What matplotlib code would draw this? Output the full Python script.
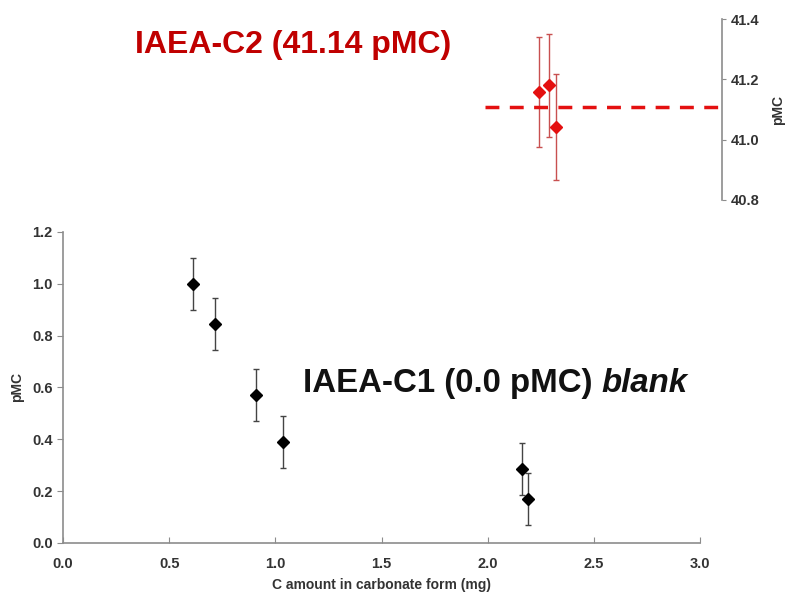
import matplotlib
matplotlib.use("Agg")
import matplotlib.pyplot as plt
from matplotlib.ticker import FormatStrFormatter

plt.rcParams['font.family'] = ['Liberation Sans', 'DejaVu Sans']
plt.rcParams['font.weight'] = 'bold'

# IAEA-C1 blank
c1_x = [0.612, 0.714, 0.909, 1.035, 2.163, 2.19]
c1_y = [1.0, 0.846, 0.572, 0.388, 0.284, 0.171]
c1_err = [0.1, 0.1, 0.1, 0.1, 0.1, 0.1]

# IAEA-C2
c2_x = [2.24, 2.29, 2.32]
c2_y = [41.159, 41.18, 41.041]
c2_err = [0.183, 0.172, 0.176]
c2_ref = 41.11

gray = '#8c8c8c'
txt = '#333333'

fig = plt.figure(figsize=(7.9, 5.97), dpi=100)

# bottom panel
ax = fig.add_axes([0.0797, 0.0905, 0.8066, 0.521])
ax.errorbar(c1_x, c1_y, yerr=c1_err, fmt='D', color='black', markersize=6.5,
            ecolor='#444444', elinewidth=1, capsize=2.5, capthick=1)
ax.set_xlim(0, 3.0)
ax.set_ylim(0, 1.2)
ax.set_xticks([0, 0.5, 1.0, 1.5, 2.0, 2.5, 3.0])
ax.set_yticks([0, 0.2, 0.4, 0.6, 0.8, 1.0, 1.2])
ax.xaxis.set_major_formatter(FormatStrFormatter('%.1f'))
ax.yaxis.set_major_formatter(FormatStrFormatter('%.1f'))
for s in ['top', 'right']:
    ax.spines[s].set_visible(False)
for s in ['left', 'bottom']:
    ax.spines[s].set_color(gray)
    ax.spines[s].set_linewidth(1.2)
ax.tick_params(axis='x', direction='in', length=4, color=gray, labelsize=10.5, labelcolor=txt, pad=10)
ax.tick_params(axis='y', direction='out', length=4, color=gray, labelsize=10.5, labelcolor=txt)
ax.set_xlabel('C amount in carbonate form (mg)', fontsize=10, fontweight='bold', color=txt, labelpad=5)
ax.set_ylabel('pMC', fontsize=10, fontweight='bold', color=txt, labelpad=6)

# top panel
ax2 = fig.add_axes([0.614, 0.665, 0.3, 0.303])
ax2.errorbar(c2_x, c2_y, yerr=c2_err, fmt='D', color='#e41010', markersize=6.5,
             ecolor='#c85050', elinewidth=1, capsize=2.5, capthick=1)
ax2.axhline(c2_ref, color='#e41010', linestyle=(0, (4, 3)), linewidth=2.5)
ax2.set_xlim(1.988, 3.104)
ax2.set_ylim(40.8, 41.4)
ax2.set_yticks([40.8, 41.0, 41.2, 41.4])
ax2.yaxis.set_major_formatter(FormatStrFormatter('%.1f'))
ax2.set_xticks([])
for s in ['top', 'left', 'bottom']:
    ax2.spines[s].set_visible(False)
ax2.spines['right'].set_color(gray)
ax2.spines['right'].set_linewidth(1.2)
ax2.yaxis.tick_right()
ax2.yaxis.set_label_position('right')
ax2.tick_params(axis='y', direction='out', length=3, color=gray, labelsize=10.5, labelcolor=txt)
ax2.set_ylabel('pMC', fontsize=10, fontweight='bold', color=txt, labelpad=8)
ax2.patch.set_alpha(0)

fig.text(0.3715, 0.925, 'IAEA-C2 (41.14 pMC)', fontsize=23, fontweight='bold',
         color='#c00000', ha='center', va='center')

# sample label, with "blank" in italics right after it
t1 = fig.text(0.3835, 0.357, 'IAEA-C1 (0.0 pMC) ', fontsize=23.8, fontweight='bold',
              color='#111111', ha='left', va='center')
fig.canvas.draw()
bb = t1.get_window_extent()
fig.text(bb.x1 / fig.bbox.width, 0.357, 'blank', fontsize=23.8, fontweight='bold',
         fontstyle='italic', color='#111111', ha='left', va='center')

fig.savefig('out.png', dpi=100)
